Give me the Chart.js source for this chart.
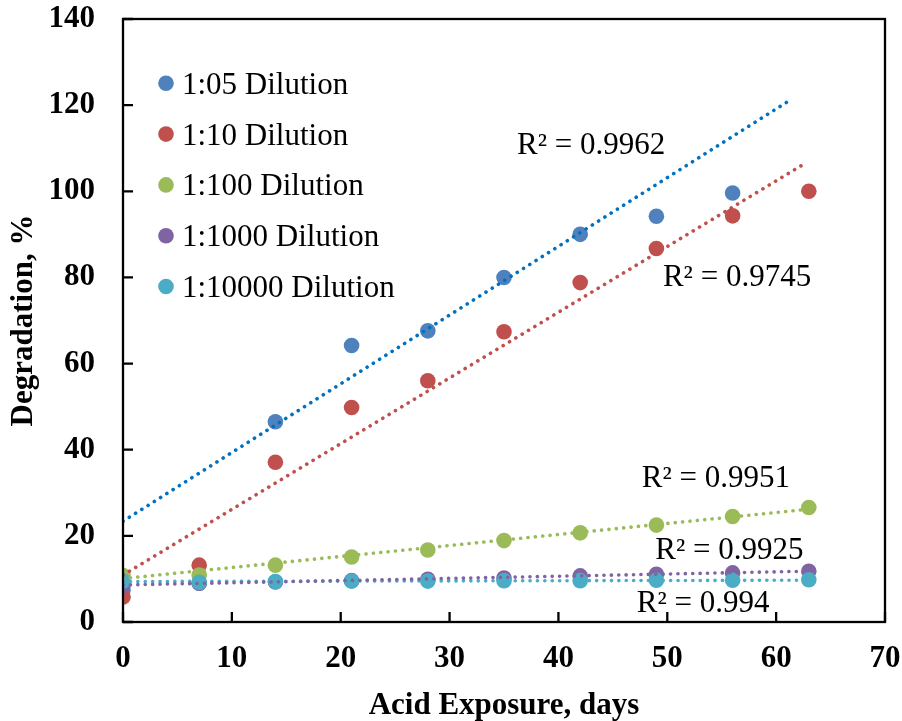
<!DOCTYPE html>
<html>
<head>
<meta charset="utf-8">
<script src="https://cdn.jsdelivr.net/npm/chart.js@4/dist/chart.umd.min.js"></script>
<style>
  html, body { margin: 0; padding: 0; background: #fff; }
  #wrap { width: 902px; height: 721px; }
</style>
</head>
<body>
<div id="wrap"><canvas id="chart" width="902" height="721"></canvas></div>
<script>
// -------- Data -----------------------------------
const days = [0, 7, 14, 21, 28, 35, 42, 49, 56, 63];
const labels = ["1:05 Dilution", "1:10 Dilution", "1:100 Dilution", "1:1000 Dilution", "1:10000 Dilution"];

const dil05    = [7.4, 9.0, 46.5, 64.2, 67.6, 80.0, 90.0, 94.2, 99.6];
const dil10    = [5.8, 13.2, 37.1, 49.8, 56.0, 67.4, 78.8, 86.7, 94.3, 100.0];
const dil100   = [10.8, 10.9, 13.2, 15.1, 16.7, 18.9, 20.7, 22.5, 24.5, 26.6];
const dil1000  = [8.5, 9.0, 9.3, 9.6, 9.9, 10.2, 10.7, 11.1, 11.4, 11.8];
const dil10000 = [9.5, 9.2, 9.4, 9.5, 9.5, 9.6, 9.6, 9.7, 9.7, 9.8];

// linear trendline ends as drawn: [x0, y0, x1, y1]
const trend05    = [0, 23.4, 61.3, 121.2];
const trend10    = [0, 10.9, 62.8, 106.7];
const trend100   = [0, 10.1, 63, 26.2];
const trend1000  = [0, 8.6, 63, 11.8];
const trend10000 = [0, 9.4, 63, 9.7];

const r2Text = ["R² = 0.9962", "R² = 0.9745", "R² = 0.9951", "R² = 0.9925", "R² = 0.994"];
// where each R² label sits (left edge, baseline) in axis units
const r2At = [[36.2, 108.7], [49.6, 78.1], [47.65, 31.4], [48.9, 14.6], [47.2, 2.4]];

const xTicks = [0, 10, 20, 30, 40, 50, 60, 70];
const yTicks = [0, 20, 40, 60, 80, 100, 120, 140];

// -------- Styles ----------
const markerColors = ["#4F81BD", "#C0504D", "#9BBB59", "#8064A2", "#4BACC6"];
const trendColors  = ["#0070C0", "#C0504D", "#9BBB59", "#8064A2", "#4BACC6"];
const FONT = "'Liberation Serif', 'Times New Roman', serif";

const series = [dil05, dil10, dil100, dil1000, dil10000];
const trends = [trend05, trend10, trend100, trend1000, trend10000];

const pts = (ys) => ys.map((y, i) => ({ x: days[i], y }));

const datasets = [];
trends.forEach((t, i) => {
  datasets.push({
    type: "line",
    label: labels[i] + " trend",
    data: [{ x: t[0], y: t[1] }, { x: t[2], y: t[3] }],
    borderColor: trendColors[i],
    borderWidth: 3.6,
    borderDash: [0.1, 7.3],
    borderCapStyle: "round",
    pointRadius: 0,
    fill: false,
    order: 1 + i
  });
});
series.forEach((s, i) => {
  datasets.push({
    type: "scatter",
    label: labels[i],
    data: pts(s),
    backgroundColor: markerColors[i],
    borderWidth: 0,
    pointRadius: 7.8,
    pointHoverRadius: 7.8,
    order: 10 - i
  });
});

// -------- Plugins ----------
const frame = {
  id: "frame",
  afterDatasetsDraw(chart) {
    const { ctx, chartArea: a, scales } = chart;
    ctx.save();
    ctx.strokeStyle = "#000";
    ctx.lineWidth = 2.3;
    ctx.strokeRect(a.left, a.top, a.right - a.left, a.bottom - a.top);
    ctx.beginPath();
    yTicks.forEach(v => {
      const y = scales.y.getPixelForValue(v);
      ctx.moveTo(a.left, y); ctx.lineTo(a.left + 10, y);
    });
    xTicks.forEach(v => {
      const x = scales.x.getPixelForValue(v);
      ctx.moveTo(x, a.bottom); ctx.lineTo(x, a.bottom - 10);
    });
    ctx.stroke();

    // R² labels
    ctx.fillStyle = "#000";
    ctx.font = `31px ${FONT}`;
    ctx.textBaseline = "alphabetic";
    ctx.textAlign = "left";
    r2Text.forEach((txt, i) => {
      ctx.fillText(txt, scales.x.getPixelForValue(r2At[i][0]), scales.y.getPixelForValue(r2At[i][1]));
    });

    // legend
    const lx = 166, ly = 83.3, step = 50.8;
    labels.forEach((lab, i) => {
      const cy = ly + i * step;
      ctx.beginPath();
      ctx.fillStyle = markerColors[i];
      ctx.arc(lx, cy, 7.8, 0, Math.PI * 2);
      ctx.fill();
      ctx.fillStyle = "#000";
      ctx.fillText(lab, 182, cy + 10.5);
    });
    ctx.restore();
  }
};

// -------- Chart ----------
new Chart(document.getElementById("chart"), {
  data: { datasets },
  options: {
    responsive: false,
    animation: false,
    layout: { padding: { top: 19, right: 17, left: 0, bottom: 0 } },
    plugins: { legend: { display: false }, tooltip: { enabled: false } },
    scales: {
      x: {
        type: "linear",
        min: 0, max: 70,
        afterBuildTicks: s => { s.ticks = xTicks.map(v => ({ value: v })); },
        afterFit: s => { s.height = 99; s.paddingLeft = 0; s.paddingRight = 0; },
        grid: { display: false, drawTicks: false },
        border: { display: false },
        ticks: { color: "#000", padding: 18, font: { family: FONT, size: 31, weight: "bold" } },
        title: {
          display: true, text: "Acid Exposure, days", color: "#000",
          padding: { top: 0, bottom: -4 },
          font: { family: FONT, size: 31, weight: "bold" }
        }
      },
      y: {
        type: "linear",
        min: 0, max: 140,
        afterBuildTicks: s => { s.ticks = yTicks.map(v => ({ value: v })); },
        afterFit: s => { s.width = 123; s.paddingTop = 0; s.paddingBottom = 0; },
        grid: { display: false, drawTicks: false },
        border: { display: false },
        ticks: { color: "#000", padding: 28, font: { family: FONT, size: 31, weight: "bold" } },
        title: {
          display: true, text: "Degradation, %", color: "#000",
          padding: { top: 5, bottom: 0 },
          font: { family: FONT, size: 31, weight: "bold" }
        }
      }
    }
  },
  plugins: [frame]
});
</script>
</body>
</html>
